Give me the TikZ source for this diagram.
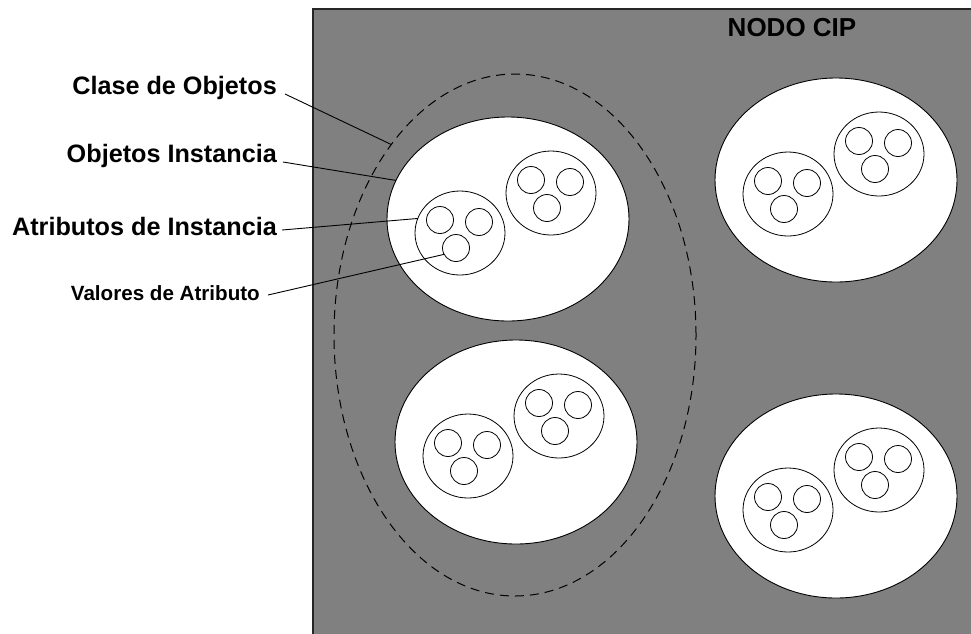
\documentclass[tikz,border=0pt]{standalone}
\usepackage{fontspec}
\setmainfont{Liberation Sans}
\usetikzlibrary{shapes.geometric}
\definecolor{cipgray}{RGB}{128,128,128}

% One instance object: white ellipse holding two attribute circles,
% each holding three value circles.
\newcommand\objetoinstancia[2]{%
  \node[objeto] (#1) at (#2) {};
  \foreach \g/\gx/\gy in {a/-48/14, b/43/-26} {
    \node[atributo] (#1-\g) at ([shift={(\gx,\gy)}]#1.center) {};
    \foreach \v/\vx/\vy in {1/-20/-13, 2/19/-11, 3/-4/15}
      \node[valor] (#1-\g\v) at ([shift={(\vx,\vy)}]#1-\g.center) {};
  }
}

\begin{document}
\begin{tikzpicture}[x=1pt,y=-1pt,
  objeto/.style={ellipse, draw=black, line width=0.9pt, fill=white,
    minimum width=242pt, minimum height=204pt, inner sep=0pt, outer sep=0pt},
  atributo/.style={ellipse, draw=black, line width=0.8pt,
    minimum width=90pt, minimum height=84pt, inner sep=0pt, outer sep=0pt},
  valor/.style={circle, draw=black, line width=0.8pt,
    minimum size=27pt, inner sep=0pt, outer sep=0pt},
  clase/.style={ellipse, draw=black, line width=1pt,
    dash pattern=on 9pt off 6pt,
    minimum width=362pt, minimum height=522pt, inner sep=0pt, outer sep=0pt},
  etiqueta/.style={font=\bfseries\fontsize{25.2}{29}\selectfont,
    anchor=east, inner sep=0pt},
  guia/.style={draw=black, line width=0.9pt}]

\useasboundingbox (0,0) rectangle (971,633);

% CIP node background
\fill[cipgray] (313,9) rectangle (985,645);
\draw[line width=1.6pt, black!85] (313,645) -- (313,9) -- (985,9);

\node[font=\bfseries\fontsize{26}{30}\selectfont, inner sep=0pt]
  (nodo) at (792,28) {NODO CIP};

% Object class boundary
\node[clase] (clase) at (515,335) {};

% Instance objects
\objetoinstancia{tl}{508,219}
\objetoinstancia{bl}{516,442}
\objetoinstancia{tr}{836,180}
\objetoinstancia{br}{836,496}

% Labels and leader lines
\node[etiqueta] (lclase) at (277,88)  {Clase de Objetos};
\node[etiqueta] (linst)  at (277,156) {Objetos Instancia};
\node[etiqueta] (latr)   at (277,226) {Atributos de Instancia};
\node[etiqueta, font=\bfseries\fontsize{20.6}{24}\selectfont]
  (lval) at (260,293) {Valores de Atributo};

\draw[guia] ([shift={(8,6)}]lclase.east) -- (clase.123);
\draw[guia] ([shift={(6,6)}]linst.east)  -- (tl.161);
\draw[guia] ([shift={(5,4)}]latr.east)   -- (tl-a.161);
\draw[guia] ([shift={(8,2)}]lval.east)   -- (tl-a3.208);
\end{tikzpicture}
\end{document}
